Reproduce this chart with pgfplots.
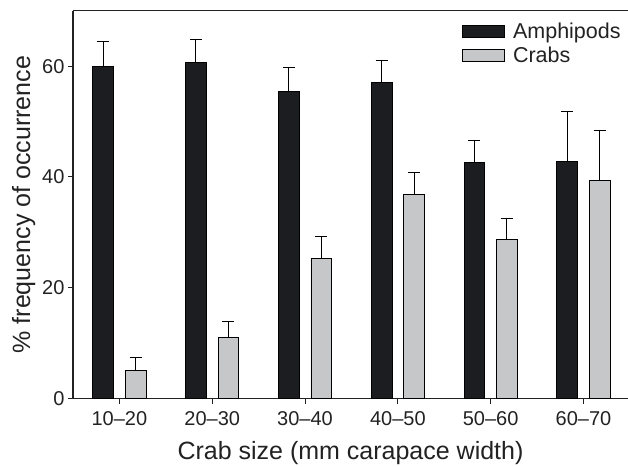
\documentclass[border=0pt]{standalone}
\usepackage{pgfplots}
\pgfplotsset{compat=1.18}
\usepackage{fontspec}
\setmainfont{Liberation Sans}
\definecolor{amph}{HTML}{1C1D21}
\definecolor{crab}{HTML}{C6C7C9}
\definecolor{axc}{HTML}{222222}
\begin{document}
\begin{tikzpicture}
\useasboundingbox (-73pt,-67.3pt) rectangle (555pt,398.7pt);
\begin{axis}[
  at={(0,0)}, anchor=south west,
  width=555pt, height=388pt, scale only axis,
  xmin=-0.5, xmax=5.48, ymin=0, ymax=70,
  axis x line*=box, axis y line*=left,
  xtick={0,1,2,3,4,5},
  xticklabels={10--20,20--30,30--40,40--50,50--60,60--70},
  ytick={0,20,40,60},
  xtick pos=bottom, ytick pos=left,
  tick align=outside, major tick length=5pt,
  tick style={axc, line width=1pt},
  axis line style={axc, line width=1.5pt},
  ticklabel style={font=\fontsize{20}{24}\selectfont, text=axc},
  xticklabel style={yshift=-4pt},
  /pgf/number format/assume math mode=true,
  xlabel={Crab size (mm carapace width)},
  ylabel={\% frequency of occurrence},
  label style={font=\fontsize{25}{30}\selectfont, text=axc},
  xlabel style={yshift=-9pt},
  legend style={draw=none, fill=none, at={(0.701,0.975)}, anchor=north west,
    font=\fontsize{21.5}{24}\selectfont, text=axc, row sep=3.5pt, inner sep=0pt,
    /tikz/every odd column/.append style={column sep=6pt}},
  legend cell align=left,
  legend image code/.code={\draw[#1] (0pt,-6pt) rectangle (42pt,6pt);},
]
\addplot[ybar, bar width=20.7pt, bar shift=0pt, fill=amph, draw=black, line width=0.8pt,
  error bars/.cd, y dir=plus, y explicit,
  error bar style={line width=1pt, black},
  error mark options={line width=1pt, mark size=6pt, black, rotate=90}]
  coordinates {(-0.175,60.0) +- (0,4.45) (0.825,60.66) +- (0,4.09) (1.825,55.5) +- (0,4.26)
               (2.825,57.0) +- (0,3.96) (3.825,42.56) +- (0,4.1) (4.825,42.74) +- (0,9.02)};
\addlegendentry{Amphipods}
\addplot[ybar, bar width=20.7pt, bar shift=0pt, fill=crab, draw=black, line width=0.8pt,
  error bars/.cd, y dir=plus, y explicit,
  error bar style={line width=1pt, black},
  error mark options={line width=1pt, mark size=6pt, black, rotate=90}]
  coordinates {(0.175,5.05) +- (0,2.42) (1.175,11.0) +- (0,2.89) (2.175,25.25) +- (0,3.95)
               (3.175,36.92) +- (0,3.96) (4.175,28.74) +- (0,3.85) (5.175,39.3) +- (0,9.03)};
\addlegendentry{Crabs}
\end{axis}
\end{tikzpicture}
\end{document}
